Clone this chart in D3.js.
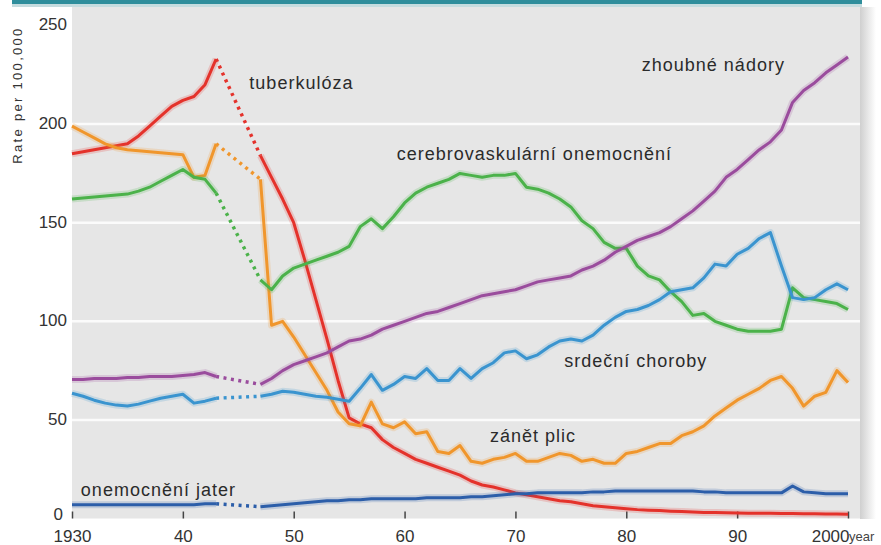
<!DOCTYPE html>
<html>
<head>
<meta charset="utf-8">
<script src="https://cdn.jsdelivr.net/npm/d3@7/dist/d3.min.js"></script>
<style>
    body { margin: 0; background: #fff; }
    svg { display: block; font-family: "Liberation Sans", Arial, sans-serif; }
</style>
</head>
<body>
<svg id="chart" width="881" height="545"></svg>
<script>
// years 1930..2000, 1944-1946 missing (war years, drawn dotted)
const years = d3.range(1930, 2001);
const gap = [1943, 1947];

const tuberkuloza = [185,186,187,188,189,190,194,199,204,209,212,214,220,233,
    null,null,null,
    184,173,162,150,131,111,91,70,51,48,46,40,36,33,30,28,26,24,22,19,17,16,14.5,13,
    12,11,10,9,8.5,7.5,6.5,6,5.5,5,4.5,4.2,4,3.7,3.5,3.3,3.1,3,2.9,2.8,
    2.7,2.6,2.6,2.5,2.5,2.4,2.4,2.3,2.3,2.2];
const zanetPlic = [199,196,193,190,188,187,186.5,186,185.5,185,184.5,173,174,190,
    null,null,null,
    172,98,100,92,83,74,65,54,48,47,59,48,46,49,43,44,34,33,37,29,28,30,31,33,
    29,29,31,33,32,29,30,28,28,33,34,36,38,38,42,44,47,52,56,60,
    63,66,70,72,66,57,62,64,75,69];
const cerebro = [162,162.5,163,163.5,164,164.5,166,168,171,174,177,173,172,165,
    null,null,null,
    121,116,123,127,129,131,133,135,138,148,152,147,153,160,165,168,170,172,175,174,173,174,174,175,
    168,167,165,162,158,151,147,140,137,137,128,123,121,115,110,103,104,100,98,96,
    95,95,95,96,117,112,111,110,109,106];
const srdecni = [63.5,62,60,58.5,57.5,57,58,59.5,61,62,63,58.5,59.5,61,
    null,null,null,
    62,63,64.5,64,63,62,61.5,60.5,59.5,66,73,65,68,72,71,76,70,70,76,71,76,79,84,85,
    81,83,87,90,91,90,93,98,102,105,106,108,111,115,116,117,122,129,128,134,
    137,142,145,128,112,111,112,116,119,116];
const zhoubne = [70.5,70.5,71,71,71,71.5,71.5,72,72,72,72.5,73,74,72,
    null,null,null,
    68,71,75,78,80,82,84,87,90,91,93,96,98,100,102,104,105,107,109,111,113,114,115,116,
    118,120,121,122,123,126,128,131,135,138,141,143,145,148,152,156,161,166,173,177,
    182,187,191,197,211,217,221,226,230,234];
const jater = [7,7,7,7,7,7,7,7,7,7,7,7,7.5,7.5,
    null,null,null,
    6,6.5,7,7.5,8,8.5,9,9,9.5,9.5,10,10,10,10,10,10.5,10.5,10.5,10.5,11,11,11.5,12,12.5,
    12.5,13,13,13,13,13,13.5,13.5,14,14,14,14,14,14,14,14,13.5,13.5,13,13,
    13,13,13,13,16.5,13.5,13,12.5,12.5,12.5];

const series = [
    {nom:'tuberkulóza', values:tuberkuloza, color:'#e4322b'},
    {nom:'zánět plic', values:zanetPlic, color:'#f0962c'},
    {nom:'cerebrovaskulární onemocnění', values:cerebro, color:'#4bb24a'},
    {nom:'zhoubné nádory', values:zhoubne, color:'#9a4c9d'},
    {nom:'srdeční choroby', values:srdecni, color:'#3a94cf'},
    {nom:'onemocnění jater', values:jater, color:'#2c5ea9'}
];

// label anchors (year, value)
const labels = [
    {t:'tuberkulóza', year:1946.0, v:218},
    {t:'cerebrovaskulární onemocnění', year:1959.3, v:182},
    {t:'zhoubné nádory', year:1981.4, v:227},
    {t:'srdeční choroby', year:1974.4, v:77},
    {t:'zánět plic', year:1967.7, v:39},
    {t:'onemocnění jater', year:1930.8, v:11.5}
];
const yTicks = [0, 50, 100, 150, 200, 250];
const xTicks = [1930, 1940, 1950, 1960, 1970, 1980, 1990, 2000];

let svg = d3.select('#chart'),
    x = d3.scaleLinear().domain([1930, 2000]).range([72, 848]),
    y = d3.scaleLinear().domain([0, 250]).range([518.5, 25.5]);

// teal band on top
svg.append('rect').attr('x', 12).attr('y', 0).attr('width', 850).attr('height', 4).attr('fill', '#2f8e9c');
svg.append('rect').attr('x', 12).attr('y', 4).attr('width', 850).attr('height', 3).attr('fill', '#c5dcdf');

// shadow on the right of the panel
let defs = svg.append('defs'),
    grad = defs.append('linearGradient').attr('id', 'shadow');
grad.append('stop').attr('offset', 0).attr('stop-color', '#cfcfcf');
grad.append('stop').attr('offset', 1).attr('stop-color', '#ffffff');
svg.append('rect').attr('x', 860).attr('y', 7).attr('width', 16).attr('height', 512).attr('fill', 'url(#shadow)');

// panel
svg.append('rect').attr('x', 72).attr('y', 7).attr('width', 788).attr('height', 511.5).attr('fill', '#e6e6e6');

// white grid lines
svg.append('g').selectAll('line').data(yTicks.filter(d => d > 0 && d < 250)).enter()
    .append('line')
    .attr('x1', 72).attr('x2', 860)
    .attr('y1', d => y(d)).attr('y2', d => y(d))
    .attr('stroke', '#fbfbfb').attr('stroke-width', 2.5);

// y axis labels
svg.append('g').selectAll('text').data(yTicks).enter()
    .append('text')
    .attr('x', d => d == 0 ? 63 : 67).attr('y', d => y(d) - (d == 0 ? 4 : 1))
    .attr('dy', '0.35em')
    .attr('text-anchor', 'end')
    .attr('fill', '#333')
    .style('font-size', '17px')
    .text(d => d);

svg.append('text')
    .attr('transform', 'translate(22,95) rotate(-90)')
    .attr('text-anchor', 'middle')
    .attr('fill', '#333')
    .style('font-size', '13px')
    .style('letter-spacing', '2.3px')
    .text('Rate per 100,000');

// x axis: ticks point up into the panel
let xAxis = d3.axisBottom(x).tickValues(xTicks).tickSizeInner(-7).tickSizeOuter(0)
    .tickFormat(d => (d == 1930 || d == 2000) ? d : d % 100);
let gx = svg.append('g').attr('transform', 'translate(0,518.5)').call(xAxis);
gx.select('.domain').remove();
gx.selectAll('.tick line').attr('stroke', '#444').attr('stroke-width', 1.5);
gx.selectAll('.tick text')
    .attr('y', 23).attr('dy', 0)
    .attr('fill', '#333')
    .style('font-size', '17px')
    .style('font-family', '"Liberation Sans", Arial, sans-serif');
gx.selectAll('.tick').filter(d => d == 2000).select('text')
    .attr('text-anchor', 'end').attr('x', 1);
gx.append('text').attr('x', 849).attr('y', 22)
    .attr('fill', '#444').attr('text-anchor', 'start')
    .style('font-size', '13px')
    .style('font-family', '"Liberation Sans", Arial, sans-serif')
    .text('year');

// lines
let line = d3.line()
    .defined(d => d[1] != null)
    .x(d => x(d[0]))
    .y(d => y(d[1]));

let gLines = svg.append('g');
series.forEach(s => {
    let pts = years.map((yr, i) => [yr, s.values[i]]),
        dots = gap.map(yr => [yr, s.values[years.indexOf(yr)]]);
    // halo
    gLines.append('path').attr('d', line(pts)).attr('fill', 'none')
        .attr('stroke', s.color).attr('stroke-opacity', 0.2).attr('stroke-width', 7)
        .attr('stroke-linejoin', 'round');
    gLines.append('path').attr('d', line(pts)).attr('fill', 'none')
        .attr('stroke', s.color).attr('stroke-width', 3)
        .attr('stroke-linejoin', 'round');
    // dotted war gap
    gLines.append('path').attr('d', line(dots)).attr('fill', 'none')
        .attr('stroke', s.color).attr('stroke-width', 3.5)
        .attr('stroke-dasharray', '3 4.5');
});

// series labels
svg.append('g').selectAll('text').data(labels).enter()
    .append('text')
    .attr('x', d => x(d.year)).attr('y', d => y(d.v))
    .attr('fill', '#2b2b2b')
    .style('font-size', '18px')
    .style('letter-spacing', '1px')
    .text(d => d.t);
</script>
</body>
</html>
